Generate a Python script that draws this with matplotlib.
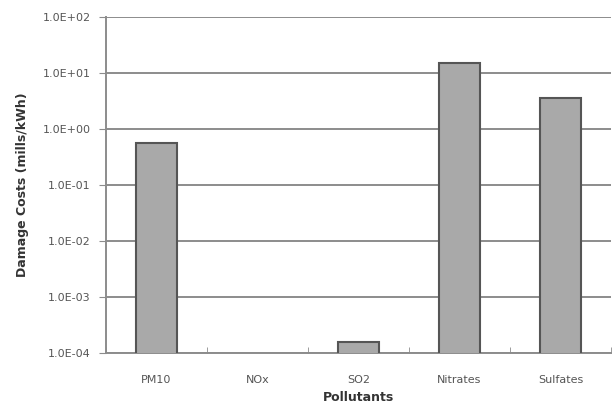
import matplotlib
matplotlib.use("Agg")
import matplotlib.pyplot as plt
import numpy as np

# data
pollutants = ["PM10", "NOx", "SO2", "Nitrates", "Sulfates"]
damage_costs = [0.56, np.nan, 1.57e-4, 15.0, 3.6]
tick_values = [1e-4, 1e-3, 1e-2, 1e-1, 1e0, 1e1, 1e2]
tick_labels = ["1.0E-04", "1.0E-03", "1.0E-02", "1.0E-01", "1.0E+00", "1.0E+01", "1.0E+02"]

fig = plt.figure(figsize=(6.13, 4.03), dpi=100)
ax = fig.add_axes([106 / 613, 1 - 353 / 403, 505 / 613, 336 / 403])

x = np.arange(len(pollutants))
ax.set_yscale("log")
ax.bar(x, damage_costs, width=0.4, color="#a9a9a9", edgecolor="#555555",
       linewidth=1.5, zorder=3)

ax.set_ylim(1e-4, 1e2)
ax.set_xlim(-0.5, 4.5)
ax.set_yticks(tick_values)
ax.set_yticklabels(tick_labels)
ax.minorticks_off()
ax.yaxis.grid(True, color="#8c8c8c", linewidth=1.4, zorder=0)

ax.set_xticks(x)
ax.set_xticklabels(pollutants)
ax.set_xticks(np.arange(-0.5, 5, 1), minor=True)
ax.tick_params(axis="x", which="major", length=0, pad=16, labelsize=8, labelcolor="#555555")
ax.tick_params(axis="x", which="minor", length=4, color="#8c8c8c", direction="in")
ax.tick_params(axis="y", length=5, color="#8c8c8c", pad=6, labelsize=8, labelcolor="#555555")

for s in ["top", "right"]:
    ax.spines[s].set_visible(False)
for s in ["left", "bottom"]:
    ax.spines[s].set_color("#8c8c8c")
    ax.spines[s].set_linewidth(1.4)

ax.set_xlabel("Pollutants", fontsize=9, fontweight="bold", color="#333333", labelpad=4)
ax.set_ylabel("Damage Costs (mills/kWh)", fontsize=9, fontweight="bold", color="#333333", labelpad=10)

fig.savefig("out.png", dpi=100)
